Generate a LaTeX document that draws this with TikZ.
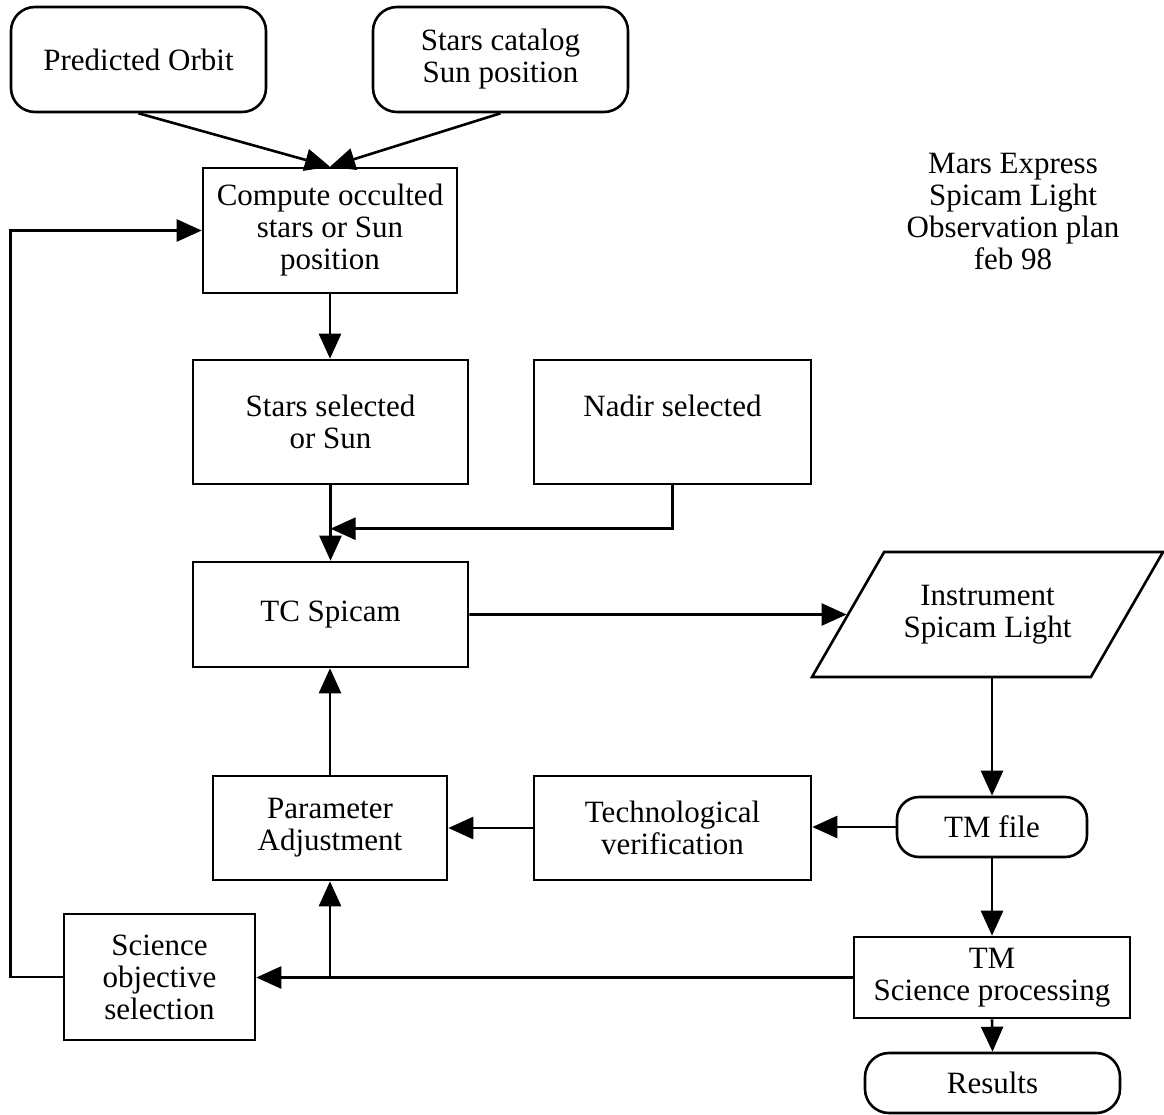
\documentclass[tikz,border=0pt]{standalone}
\usepackage{fontspec}
\setmainfont{Liberation Serif}
\usetikzlibrary{arrows.meta,shapes.geometric}
\begin{document}
\begin{tikzpicture}[x=1pt,y=-1pt,
  every node/.style={font=\fontsize{31}{32}\selectfont, align=center, inner sep=0pt},
  box/.style 2 args={draw, line width=2.6pt, minimum width=#1, minimum height=#2},
  rbox/.style 2 args={box={#1}{#2}, rounded corners=24pt},
  para/.style={draw, line width=2.6pt, trapezium, trapezium left angle=60,
    trapezium right angle=120, trapezium stretches body,
    inner xsep=0pt, inner ysep=33pt, minimum width=351pt},
  arr/.style={line width=2.6pt, -{Triangle[length=25pt,width=22pt]}}]
\useasboundingbox (0,0) rectangle (1164,1115);

% process boxes
\node[rbox={255}{105}] (porbit) at (138.5,59.5) {Predicted Orbit};
\node[rbox={255}{105}] (cat) at (500.5,59.5) {Stars catalog\\Sun position};
\node[box={254}{125}] (compute) at (330,230.5) {Compute occulted\\stars or Sun\\position};
\node[box={275}{124}] (starsel) at (330.5,422) {Stars selected\\or Sun};
\node[box={277}{124}] (nadir) at (672.5,422) {Nadir selected\\\mbox{}};
\node[box={275}{105}] (tc) at (330.5,614.5) {TC Spicam};
\node[para] (instr) at (987.5,614.5) {Instrument\\Spicam Light};
\node[box={190}{60}, rounded corners=22pt] (tmfile) at (992,827) {TM file};
\node[box={277}{104}] (tech) at (672.5,828) {Technological\\verification};
\node[box={234}{104}] (param) at (330,828) {Parameter\\Adjustment};
\node[box={191}{126}] (science) at (159.5,977) {Science\\objective\\selection};
\node[box={276}{81}] (tmsci) at (992,977.5) {TM\\Science processing};
\node[rbox={255}{60}] (results) at (992.5,1083) {Results};
\node (title) at (1013,212) {Mars Express\\Spicam Light\\Observation plan\\feb 98};

% connectors
\draw[arr] (porbit.south) -- (compute.north);
\draw[arr] (cat.south) -- (compute.north);
\draw[arr] (compute.south) -- (compute.south |- starsel.north);
\draw[arr] (starsel.south) -- (tc.north);
\path (tc.north) ++(0,-32) coordinate (join);
\draw[arr] (nadir.south) |- (join);
\draw[arr] (tc.east) -- (instr);
\draw[arr] (tmfile.north |- instr.south) -- (tmfile.north);
\draw[arr] (tmfile.west) -- (tmfile.west -| tech.east);
\draw[arr] (tech.west) -- (param.east);
\draw[arr] (param.north) -- (param.north |- tc.south);
\draw[arr] (tmfile.south) -- (tmsci.north);
\draw[arr] (tmsci.south) -- (results.north);
\draw[arr] (tmsci.west) -- (tmsci.west -| science.east);
\draw[arr] (param.south |- tmsci.west) -- (param.south);
\draw[arr] (science.west) -- ++(-52,0) |- (compute.west);
\end{tikzpicture}
\end{document}
